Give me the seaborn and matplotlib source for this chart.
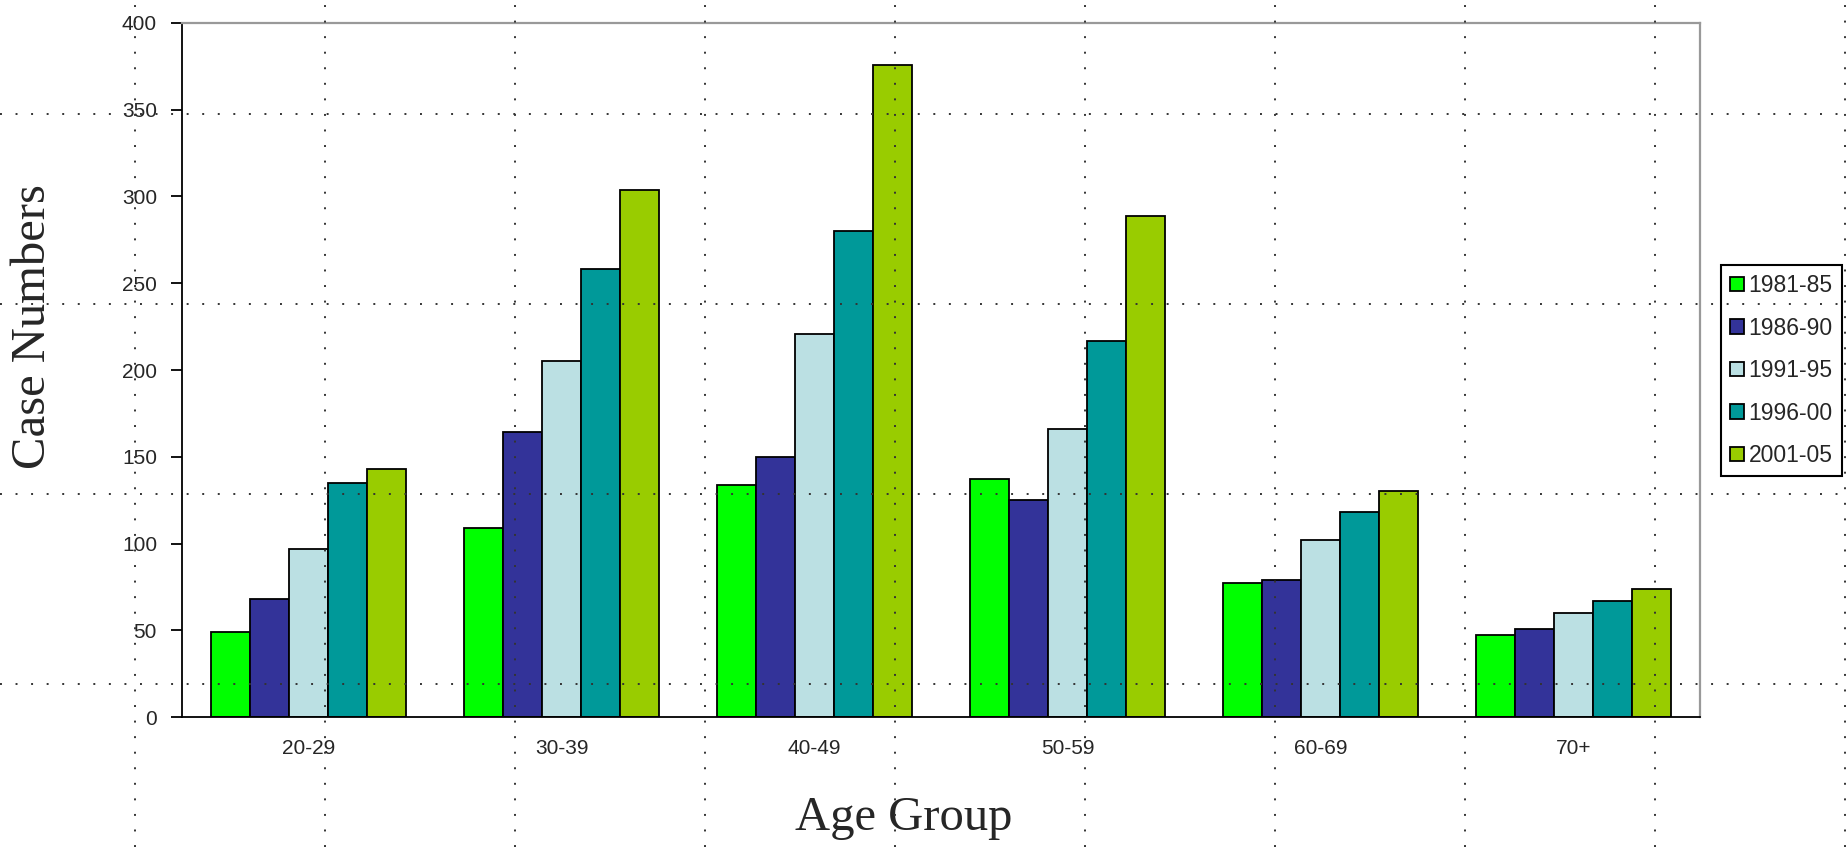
import numpy as np
import pandas as pd
import matplotlib
matplotlib.use("Agg")
import matplotlib.pyplot as plt
from matplotlib.lines import Line2D
import seaborn as sns

# chart data
age_groups = ["20-29", "30-39", "40-49", "50-59", "60-69", "70+"]
periods = ["1981-85", "1986-90", "1991-95", "1996-00", "2001-05"]
cases_1981_85 = [49, 109, 134, 137, 77, 47]
cases_1986_90 = [68, 164, 150, 125, 79, 51]
cases_1991_95 = [97, 205, 221, 166, 102, 60]
cases_1996_00 = [135, 258, 280, 217, 118, 67]
cases_2001_05 = [143, 304, 376, 289, 130, 74]
y_ticks = [0, 50, 100, 150, 200, 250, 300, 350, 400]

colors = ["#00FF00", "#333399", "#BBE0E3", "#009999", "#99CC00"]

series = [cases_1981_85, cases_1986_90, cases_1991_95, cases_1996_00, cases_2001_05]
df = pd.DataFrame(
    [(g, p, v) for p, vals in zip(periods, series) for g, v in zip(age_groups, vals)],
    columns=["age", "period", "cases"],
)

W, H = 1846, 847
sns.set_theme(style="white")
plt.rcParams["font.family"] = ["Liberation Sans", "DejaVu Sans"]

fig = plt.figure(figsize=(W / 100, H / 100), dpi=100)
ax = fig.add_axes([182 / W, 1 - 717 / H, (1700 - 182) / W, (717 - 23) / H])

sns.barplot(
    data=df, x="age", y="cases", hue="period", order=age_groups, hue_order=periods,
    palette=colors, saturation=1, width=5 / 6.5, edgecolor="black", linewidth=1.3,
    errorbar=None, ax=ax,
)

ax.set_xlim(-0.5, len(age_groups) - 0.5)
ax.set_ylim(0, 400)
ax.set_yticks(y_ticks)
ax.set_yticklabels([str(t) for t in y_ticks])
ax.set_xticks(np.arange(-0.5, len(age_groups), 1), minor=True)
ax.tick_params(axis="x", which="major", length=0, labelsize=15, pad=16)
ax.tick_params(axis="x", which="minor", length=8, width=1.3, direction="out", color="black")
ax.tick_params(axis="y", length=8, width=1.3, direction="out", color="black",
               labelsize=15, pad=10, left=True)

for side in ["left", "bottom"]:
    ax.spines[side].set_color("black")
    ax.spines[side].set_linewidth(1.3)
for side in ["top", "right"]:
    ax.spines[side].set_color("#999999")
    ax.spines[side].set_linewidth(1.6)

ax.set_xlabel("Age Group", family="Liberation Serif", fontsize=35)
ax.set_ylabel("Case Numbers", family="Liberation Serif", fontsize=35)
ax.xaxis.set_label_coords(0.4756, -0.1455)
ax.xaxis.label.set_va("center")
ax.yaxis.set_label_coords(-0.098, 0.563)
ax.yaxis.label.set_va("center")

handles, labels = ax.get_legend_handles_labels()
leg = ax.legend(
    handles, labels, loc="upper left", bbox_to_anchor=(1721 / W, 1 - 265 / H),
    bbox_transform=fig.transFigure, fontsize=16.5, frameon=True, fancybox=False,
    edgecolor="black", framealpha=1, borderpad=0.4, labelspacing=0.85,
    handlelength=0.6, handleheight=0.6, handletextpad=0.2, borderaxespad=0,
)
leg.get_frame().set_linewidth(1.5)

# dotted overlay grid across the whole picture
grid_step = 190
for x in range(135, W, grid_step):
    fig.add_artist(Line2D([x / W, x / W], [0, 1], transform=fig.transFigure,
                          color="#333333", lw=1.4, linestyle=(0, (1, 7)), zorder=10))
for y in range(114, H, grid_step):
    fig.add_artist(Line2D([0, 1], [1 - y / H, 1 - y / H], transform=fig.transFigure,
                          color="#333333", lw=1.4, linestyle=(0, (1, 7)), zorder=10))

fig.savefig("out.png", dpi=100)
plt.close(fig)
